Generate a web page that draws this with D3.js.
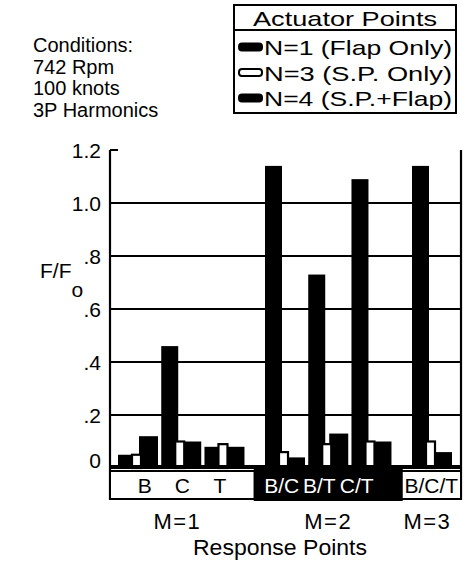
<!DOCTYPE html>
<html><head><meta charset="utf-8">
<script src="https://cdn.jsdelivr.net/npm/d3@7"></script>
<style>
html,body{margin:0;padding:0;background:#fff;}
svg text{font-family:"Liberation Sans",Arial,Helvetica,sans-serif;fill:#000;}
</style></head>
<body>
<svg id="chart" width="469" height="563"></svg>
<script>
// ---- data ----
const responsePoints = ["B","C","T","B/C","B/T","C/T","B/C/T"];
const modeOf = ["M=1","M=1","M=1","M=2","M=2","M=2","M=3"];
const modes = ["M=1","M=2","M=3"];
const series = ["N=1 (Flap Only)","N=3 (S.P. Only)","N=4 (S.P.+Flap)"];
const n1 = [0.05, 0.46, 0.08, 1.14, 0.73, 1.09, 1.14];
const n3 = [0.05, 0.10, 0.09, 0.06, 0.09, 0.10, 0.10];
const n4 = [0.12, 0.10, 0.08, 0.04, 0.13, 0.10, 0.06];
const yTicks = [0, 0.2, 0.4, 0.6, 0.8, 1.0, 1.2];
const yTickLabels = ["0", ".2", ".4", ".6", ".8", "1.0", "1.2"];
const conditions = ["Conditions:", "742 Rpm", "100 knots", "3P Harmonics"];
const legendTitle = "Actuator Points";

const svg = d3.select("#chart");
const plotL = 110, plotR = 461, plotT = 150, plotB = 468;

const gapUnits = 0.4;
const slotIdx = responsePoints.map((p, i) => i + modes.indexOf(modeOf[i]) * gapUnits);
const x = d3.scaleLinear().domain([0, d3.max(slotIdx)]).range([118, 412]);
const slotW = 40;
const y = d3.scaleLinear().domain([0, 1.2]).range([plotB, plotT]);

const sub = d3.scaleOrdinal().domain(series).range([0, 14, 21]);
const subW = d3.scaleOrdinal().domain(series).range([17, 9, 19]);
const values = [n1, n3, n4];

// gridlines as one path
const gp = d3.path();
yTicks.slice(1, -1).forEach(v => { gp.moveTo(plotL, y(v)); gp.lineTo(plotR, y(v)); });
svg.append("path").attr("d", gp.toString()).attr("fill", "none")
  .attr("stroke", "#000").attr("stroke-width", 2.2);

// frame + top tick
const fp = d3.path();
fp.moveTo(plotL, plotT); fp.lineTo(plotL, 500);
fp.moveTo(plotR, plotT); fp.lineTo(plotR, 500);
fp.moveTo(plotL, y(1.2)); fp.lineTo(plotL + 8, y(1.2));
svg.append("path").attr("d", fp.toString()).attr("fill", "none").attr("stroke", "#000").attr("stroke-width", 2.2);

// y tick labels
svg.append("g").selectAll("text").data(yTicks).join("text")
  .attr("x", 101).attr("y", d => y(d) + (d === 0 ? 0 : 8))
  .attr("text-anchor", "end").attr("font-size", 21)
  .text((d, i) => yTickLabels[i]);

// bars
[0, 2, 1].forEach(si => {
  const s = series[si];
  svg.append("g").selectAll("rect").data(responsePoints).join("rect")
    .attr("x", (d, i) => x(slotIdx[i]) + sub(s))
    .attr("width", subW(s))
    .attr("y", (d, i) => y(values[si][i]))
    .attr("height", (d, i) => y(0) - y(values[si][i]))
    .attr("fill", si === 1 ? "#fff" : "#000")
    .attr("stroke", "#000").attr("stroke-width", si === 1 ? 2.2 : 0);
});

// baseline
svg.append("rect").attr("x", plotL).attr("y", y(0) - 3).attr("width", plotR - plotL).attr("height", 4).attr("fill", "#000");

// label strip
const stripT = 471, stripB = 499;
const bounds = modes.map(m => {
  const idx = responsePoints.map((p, i) => i).filter(i => modeOf[i] === m);
  return {m, lo: d3.min(idx, i => x(slotIdx[i])), hi: d3.max(idx, i => x(slotIdx[i]) + slotW), idx};
});
bounds.forEach((b, k) => { b.left = k === 0 ? plotL : (bounds[k - 1].hi + b.lo) / 2; });
bounds.forEach((b, k) => { b.right = k === bounds.length - 1 ? plotR : (b.hi + bounds[k + 1].lo) / 2; });
bounds.forEach((b, k) => {
  const dark = b.m === "M=2";
  svg.append("rect").attr("x", b.left).attr("width", b.right - b.left)
    .attr("y", dark ? y(0) : stripT).attr("height", dark ? stripB - y(0) + 1 : stripB - stripT)
    .attr("fill", dark ? "#000" : "#fff").attr("stroke", "#000").attr("stroke-width", 2);
  const c = (b.left + b.right) / 2 + (dark ? -9 : 0);
  const n = b.idx.length;
  svg.append("g").selectAll("text").data(b.idx).join("text")
    .attr("x", (i, j) => c + (j - (n - 1) / 2) * 37.5)
    .attr("y", 493).attr("text-anchor", "middle").attr("font-size", 21)
    .style("fill", dark ? "#fff" : "#000")
    .text(i => responsePoints[i]);
  svg.append("text").attr("x", (b.left + b.right) / 2 + (k === 0 ? -5 : 0) + (k === 2 ? -4 : 0)).attr("y", 529)
    .attr("text-anchor", "middle").attr("font-size", 22).attr("letter-spacing", 1.5).text(b.m);
});

// axis titles
svg.append("text").attr("x", 280).attr("y", 555).attr("text-anchor", "middle").attr("font-size", 22)
  .attr("textLength", 174).attr("lengthAdjust", "spacingAndGlyphs").text("Response Points");
const fl = svg.append("text").attr("x", 40).attr("y", 278).attr("font-size", 21);
fl.append("tspan").text("F/F");
fl.append("tspan").attr("dy", 19).text("o");

// conditions
svg.append("g").selectAll("text").data(conditions).join("text")
  .attr("x", 33).attr("y", (d, i) => 52 + i * 21.5).attr("font-size", 20).text(d => d);

// legend
const lg = svg.append("g");
lg.append("rect").attr("x", 234).attr("y", 5).attr("width", 222).attr("height", 108)
  .attr("fill", "#fff").attr("stroke", "#000").attr("stroke-width", 2);
lg.append("line").attr("x1", 234).attr("x2", 456).attr("y1", 30).attr("y2", 30).attr("stroke", "#000").attr("stroke-width", 2);
lg.append("text").attr("x", 253).attr("y", 26).attr("font-size", 21)
  .attr("textLength", 184).attr("lengthAdjust", "spacingAndGlyphs").text(legendTitle);
series.forEach((s, i) => {
  const cy = 47 + i * 25.5;
  lg.append("rect").attr("x", 239).attr("y", cy - 3.5).attr("width", 23).attr("height", 7).attr("rx", 3)
    .attr("fill", i === 1 ? "#fff" : "#000").attr("stroke", "#000").attr("stroke-width", 2);
  lg.append("text").attr("x", 264).attr("y", cy + 8).attr("font-size", 21)
    .attr("textLength", 188).attr("lengthAdjust", "spacingAndGlyphs").text(s);
});
</script>
</body></html>
